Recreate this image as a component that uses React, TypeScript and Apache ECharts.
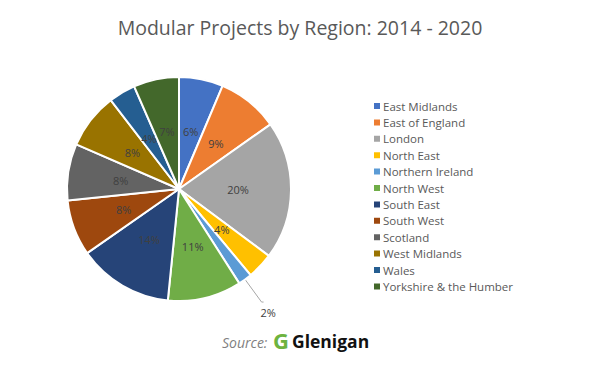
import React, { useEffect, useRef } from "react";
import * as echarts from "echarts";

const regions = [
  "East Midlands",
  "East of England",
  "London",
  "North East",
  "Northern Ireland",
  "North West",
  "South East",
  "South West",
  "Scotland",
  "West Midlands",
  "Wales",
  "Yorkshire & the Humber",
];
const shares = [6.4, 8.9, 20.1, 3.8, 2.0, 10.7, 13.8, 8.1, 8.2, 8.1, 3.9, 6.6];
const colors = [
  "#4472C4", "#ED7D31", "#A5A5A5", "#FFC000", "#5B9BD5", "#70AD47",
  "#264478", "#9E480E", "#636363", "#997300", "#255E91", "#43682B",
];
const titleText = "Modular Projects by Region: 2014 - 2020";

export default function App() {
  const ref = useRef<HTMLDivElement>(null);
  useEffect(() => {
    const chart = echarts.init(ref.current!, null, { renderer: "svg" });
    const data = regions.map((name, i) => {
      const item: any = { name, value: shares[i], itemStyle: { color: colors[i] } };
      if (name === "Northern Ireland") {
        item.label = { position: "outside" };
        item.labelLine = { show: true, length: 28, length2: 2, lineStyle: { color: "#A6A6A6", width: 1 } };
      }
      return item;
    });
    chart.setOption({
      animation: false,
      title: {
        text: titleText,
        left: "center",
        top: 12,
        textStyle: { fontFamily: "Open Sans", fontWeight: "normal", fontSize: 19.5, color: "#595959" },
      },
      legend: {
        orient: "vertical",
        left: 367,
        top: 95,
        itemWidth: 8,
        itemHeight: 8,
        itemGap: 4.4,
        icon: "rect",
        textStyle: { fontFamily: "Open Sans", fontSize: 11.5, color: "#595959", lineHeight: 12, padding: [0, 0, 0, -3] },
        data: regions,
      },
      series: [
        {
          type: "pie",
          center: [179, 189],
          radius: 112,
          startAngle: 90,
          clockwise: true,
          data,
          itemStyle: { borderColor: "#ffffff", borderWidth: 2 },
          label: {
            show: true,
            position: "inside",
            formatter: (p: any) => Math.round(p.percent) + "%",
            fontFamily: "Open Sans",
            fontSize: 11,
            color: "#404040",
          },
          labelLine: { show: false },
          labelLayout: (p: any) =>
            p.dataIndex === 4 ? { dx: -8, dy: 10 } : {},
          emphasis: { disabled: true },
        },
      ],
      graphic: [
        {
          type: "text",
          left: 222,
          top: 335,
          style: { text: "Source:", fontFamily: "Open Sans", fontStyle: "italic", fontSize: 14, fill: "#7F7F7F" },
        },
        {
          type: "text",
          left: 273,
          top: 329,
          style: { text: "G", fontFamily: "Open Sans", fontWeight: "bold", fontSize: 22, fill: "#6DB33F" },
        },
        {
          type: "text",
          left: 292,
          top: 332,
          style: { text: "Glenigan", fontFamily: "Open Sans", fontWeight: "bold", fontSize: 17.5, fill: "#111111" },
        },
      ],
    });
    return () => chart.dispose();
  }, []);
  return <div ref={ref} style={{ width: 600, height: 370, position: "absolute", left: 0, top: 0 }} />;
}
